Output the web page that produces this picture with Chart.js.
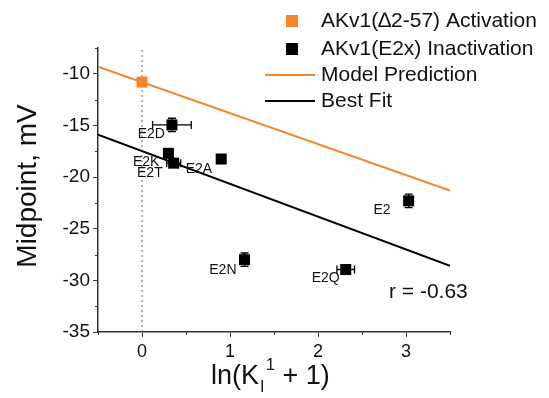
<!DOCTYPE html>
<html>
<head>
<meta charset="utf-8">
<script src="https://cdn.jsdelivr.net/npm/chart.js@4"></script>
<style>
  html, body { margin: 0; padding: 0; background: #fff; }
</style>
</head>
<body>
<canvas id="chart" width="549" height="398"></canvas>
<script>
// data
const pointNames = ['E2D', 'E2K', 'E2T', 'E2A', 'E2', 'E2N', 'E2Q'];
const inactX = [0.34, 0.30, 0.36, 0.90, 3.03, 1.165, 2.315];
const inactY = [-14.95, -17.7, -18.65, -18.25, -22.3, -28.0, -28.95];
const inactXErr = [0.22, 0, 0.08, 0, 0, 0, 0.1];
const inactYErr = [0.65, 0, 0, 0, 0.65, 0.65, 0];
const activX = [0];
const activY = [-10.8];
const lineX = [-0.5, 3.5];
const modelY = [-9.3, -21.3];
const fitY = [-15.9, -28.6];
const refX = [0, 0];
const refY = [-35, -7.5];
const xTickLabels = [0, 1, 2, 3];
const yTickLabels = [-35, -30, -25, -20, -15, -10];
const legendLabels = ['AKv1(\u22062-57) Activation', 'AKv1(E2x) Inactivation', 'Model Prediction', 'Best Fit'];
const rText = 'r = -0.63';

// label placement next to each point (px)
const labelDx = [-7, -9, -11, -9, -18, -8, -6];
const labelDy = [9, 9, 10, 10, 9, 10, 9];

const ORANGE = '#f5842c';
const AXIS = '#333';
const FONT = '"Liberation Sans", Arial, sans-serif';

const toPts = (xs, ys) => xs.map((x, i) => ({ x: x, y: ys[i] }));

// major ticks drawn by chart.js, minor ones hidden there and drawn shorter here
const majorOnly = (labels) => (c) => (c.tick && labels.includes(c.tick.value)) ? AXIS : 'rgba(0,0,0,0)';

const extras = {
  id: 'extras',
  afterDatasetsDraw(chart) {
    const { ctx, scales: { x, y } } = chart;
    ctx.save();

    // minor ticks
    ctx.strokeStyle = AXIS;
    ctx.lineWidth = 1;
    ctx.beginPath();
    x.ticks.forEach((t) => {
      if (xTickLabels.includes(t.value)) return;
      const px = Math.round(x.getPixelForValue(t.value)) + 0.5;
      ctx.moveTo(px, y.bottom); ctx.lineTo(px, y.bottom + 3);
    });
    y.ticks.forEach((t) => {
      if (yTickLabels.includes(t.value)) return;
      const py = Math.round(y.getPixelForValue(t.value)) + 0.5;
      ctx.moveTo(x.left, py); ctx.lineTo(x.left - 3, py);
    });
    ctx.stroke();

    // error bars
    ctx.strokeStyle = '#000';
    ctx.lineWidth = 1.3;
    inactX.forEach((vx, i) => {
      const px = x.getPixelForValue(vx);
      const py = y.getPixelForValue(inactY[i]);
      const cap = 4;
      if (inactXErr[i]) {
        const l = x.getPixelForValue(vx - inactXErr[i]);
        const r = x.getPixelForValue(vx + inactXErr[i]);
        ctx.beginPath();
        ctx.moveTo(l, py); ctx.lineTo(r, py);
        ctx.moveTo(l, py - cap); ctx.lineTo(l, py + cap);
        ctx.moveTo(r, py - cap); ctx.lineTo(r, py + cap);
        ctx.stroke();
      }
      if (inactYErr[i]) {
        const t = y.getPixelForValue(inactY[i] + inactYErr[i]);
        const b = y.getPixelForValue(inactY[i] - inactYErr[i]);
        ctx.beginPath();
        ctx.moveTo(px, t); ctx.lineTo(px, b);
        ctx.moveTo(px - cap, t); ctx.lineTo(px + cap, t);
        ctx.moveTo(px - cap, b); ctx.lineTo(px + cap, b);
        ctx.stroke();
      }
    });

    // point names
    ctx.fillStyle = '#111';
    ctx.font = '14px ' + FONT;
    ctx.textAlign = 'right';
    ctx.textBaseline = 'middle';
    pointNames.forEach((name, i) => {
      const px = x.getPixelForValue(inactX[i]);
      const py = y.getPixelForValue(inactY[i]);
      ctx.fillText(name, px + labelDx[i], py + labelDy[i]);
    });

    // r value
    ctx.font = '21px ' + FONT;
    ctx.textAlign = 'left';
    ctx.fillText(rText, 389, 292);

    // legend
    const rows = [21, 49, 75, 101];
    ctx.font = '21px ' + FONT;
    legendLabels.forEach((txt, i) => {
      const ry = rows[i];
      if (i < 2) {
        ctx.fillStyle = i === 0 ? ORANGE : '#000';
        ctx.fillRect(286, ry - 6, 12, 12);
      } else {
        ctx.strokeStyle = i === 2 ? ORANGE : '#000';
        ctx.lineWidth = 2;
        ctx.beginPath();
        ctx.moveTo(265, ry); ctx.lineTo(315, ry);
        ctx.stroke();
      }
      ctx.fillStyle = '#111';
      ctx.fillText(txt, 321, ry);
    });

    // y title
    ctx.save();
    ctx.translate(28, 186);
    ctx.rotate(-Math.PI / 2);
    ctx.textAlign = 'center';
    ctx.font = '28px ' + FONT;
    ctx.fillText('Midpoint, mV', 0, 0);
    ctx.restore();

    // x title: ln(K_I^1 + 1)
    const big = '27px ' + FONT;
    const small = '16px ' + FONT;
    let tx = 211;
    const ty = 377;
    ctx.textAlign = 'left';
    ctx.font = big;
    ctx.fillText('ln(K', tx, ty);
    tx += ctx.measureText('ln(K').width;
    ctx.font = small;
    ctx.fillText('I', tx + 1, ty + 11);
    ctx.fillText('1', tx + 7, ty - 11);
    tx += 16;
    ctx.font = big;
    ctx.fillText(' + 1)', tx, ty);
    ctx.restore();
  }
};

new Chart(document.getElementById('chart'), {
  type: 'scatter',
  data: {
    datasets: [
      {
        label: legendLabels[0],
        data: toPts(activX, activY),
        pointStyle: 'rect',
        pointRadius: 7.8,
        backgroundColor: ORANGE,
        borderColor: ORANGE,
        borderWidth: 0
      },
      {
        label: legendLabels[1],
        data: toPts(inactX, inactY),
        pointStyle: 'rect',
        pointRadius: 7.8,
        backgroundColor: '#000',
        borderColor: '#000',
        borderWidth: 0
      },
      {
        label: legendLabels[2],
        data: toPts(lineX, modelY),
        showLine: true,
        pointRadius: 0,
        borderColor: ORANGE,
        borderWidth: 2
      },
      {
        label: legendLabels[3],
        data: toPts(lineX, fitY),
        showLine: true,
        pointRadius: 0,
        borderColor: '#000',
        borderWidth: 2
      },
      {
        label: 'zero',
        data: toPts(refX, refY),
        showLine: true,
        pointRadius: 0,
        borderColor: '#666',
        borderWidth: 1,
        borderDash: [2, 3]
      }
    ]
  },
  options: {
    responsive: false,
    animation: false,
    devicePixelRatio: 1,
    layout: { padding: { left: 0, top: 48, right: 99, bottom: 0 } },
    plugins: {
      legend: { display: false },
      tooltip: { enabled: false }
    },
    scales: {
      x: {
        type: 'linear',
        min: -0.5,
        max: 3.5,
        afterFit: (s) => { s.height = 66; },
        ticks: {
          stepSize: 0.5,
          autoSkip: false,
          maxRotation: 0,
          padding: 4,
          color: '#111',
          font: { family: FONT, size: 18 },
          callback: (v) => xTickLabels.includes(v) ? String(v) : ''
        },
        grid: { drawOnChartArea: false, drawTicks: true, tickLength: 5, tickColor: majorOnly(xTickLabels) },
        border: { color: AXIS, width: 1.5 }
      },
      y: {
        type: 'linear',
        min: -35,
        max: -7.5,
        afterFit: (s) => { s.width = 98; },
        ticks: {
          stepSize: 2.5,
          autoSkip: false,
          padding: 3,
          color: '#111',
          font: { family: FONT, size: 19 },
          callback: (v) => yTickLabels.includes(v) ? String(v) : ''
        },
        grid: { drawOnChartArea: false, drawTicks: true, tickLength: 5, tickColor: majorOnly(yTickLabels) },
        border: { color: AXIS, width: 1.5 }
      }
    }
  },
  plugins: [extras]
});
</script>
</body>
</html>
